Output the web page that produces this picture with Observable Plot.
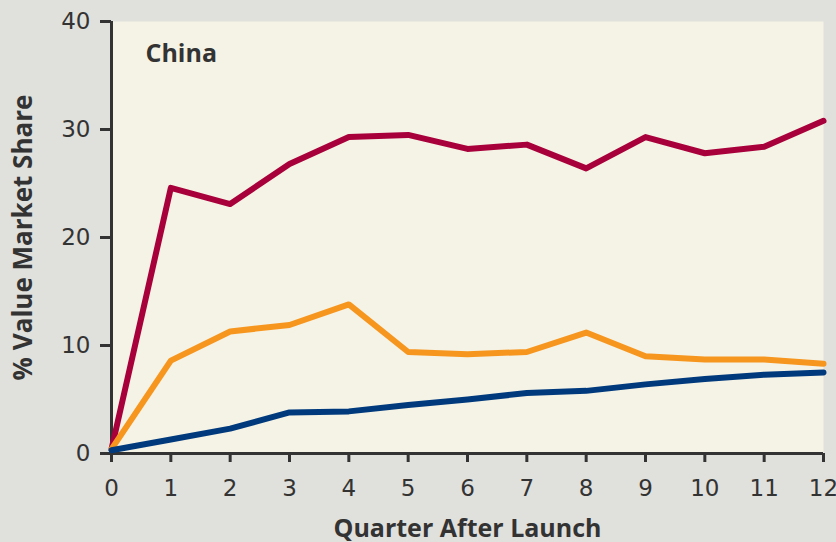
<!DOCTYPE html>
<html>
<head>
<meta charset="utf-8">
<script src="https://cdn.jsdelivr.net/npm/d3@7"></script>
<script src="https://cdn.jsdelivr.net/npm/@observablehq/plot@0.6"></script>
<style>
  html, body { margin: 0; padding: 0; background: #e0e0dc; }
  #chart svg { display: block; }
</style>
</head>
<body>
<div id="chart"></div>
<script>
const quarters = [0, 1, 2, 3, 4, 5, 6, 7, 8, 9, 10, 11, 12];
const xTicks = [0, 1, 2, 3, 4, 5, 6, 7, 8, 9, 10, 11, 12];
const yTicks = [0, 10, 20, 30, 40];
const redSeries = [0.4, 24.6, 23.1, 26.8, 29.3, 29.5, 28.2, 28.6, 26.4, 29.3, 27.8, 28.4, 30.8];
const orangeSeries = [0.4, 8.6, 11.3, 11.9, 13.8, 9.4, 9.2, 9.4, 11.2, 9.0, 8.7, 8.7, 8.3];
const navySeries = [0.3, 1.3, 2.3, 3.8, 3.9, 4.5, 5.0, 5.6, 5.8, 6.4, 6.9, 7.3, 7.5];
const seriesNames = ["series A", "series B", "series C"];
const seriesColors = ["#a8003b", "#f7961f", "#003a7d"];

const data = [];
[redSeries, orangeSeries, navySeries].forEach((vals, i) => {
  vals.forEach((v, j) => data.push({series: seriesNames[i], quarter: quarters[j], value: v}));
});

const font = "'Open Sans', 'DejaVu Sans', sans-serif";
const tickFont = "'DejaVu Sans', sans-serif";
const axisColor = "#333";
const plot = Plot.plot({
  width: 836,
  height: 542,
  marginLeft: 111,
  marginRight: 13,
  marginTop: 21,
  marginBottom: 89,
  style: {background: "#e0e0dc", fontFamily: font, color: axisColor},
  x: {domain: [0, 12]},
  y: {domain: [0, 40]},
  color: {domain: seriesNames, range: seriesColors},
  marks: [
    Plot.frame({fill: "#f5f3e6", stroke: null}),
    Plot.axisY({ticks: yTicks, tickSize: 11, tickPadding: 10, fontSize: 23, fontFamily: tickFont, label: null}),
    Plot.axisX({ticks: xTicks, tickSize: 9, tickPadding: 17, fontSize: 23, fontFamily: tickFont, label: null}),
    Plot.ruleY(yTicks, {y: d => d, x1: 0, x2: 0, insetLeft: -11, stroke: axisColor, strokeWidth: 3}),
    Plot.ruleX(xTicks, {x: d => d, y1: 0, y2: 0, insetBottom: -9, stroke: axisColor, strokeWidth: 3}),
    Plot.ruleX([0], {stroke: axisColor, strokeWidth: 3}),
    Plot.ruleY([0], {stroke: axisColor, strokeWidth: 3}),
    Plot.line(data, {x: "quarter", y: "value", z: "series", stroke: "series", strokeWidth: 6, strokeLinejoin: "round", strokeLinecap: "round"}),
    Plot.text(["China"], {frameAnchor: "top-left", dx: 34, dy: 32, textAnchor: "start", lineAnchor: "middle", fontSize: 25, fontWeight: "bold", fill: axisColor}),
    Plot.text(["% Value Market Share"], {frameAnchor: "left", dx: -88, rotate: -90, textAnchor: "middle", lineAnchor: "middle", fontSize: 26, fontWeight: "bold", fill: axisColor}),
    Plot.text(["Quarter After Launch"], {frameAnchor: "bottom", dy: 75, textAnchor: "middle", lineAnchor: "middle", fontSize: 25, fontWeight: "bold", fill: axisColor})
  ]
});
document.getElementById("chart").appendChild(plot);
</script>
</body>
</html>
